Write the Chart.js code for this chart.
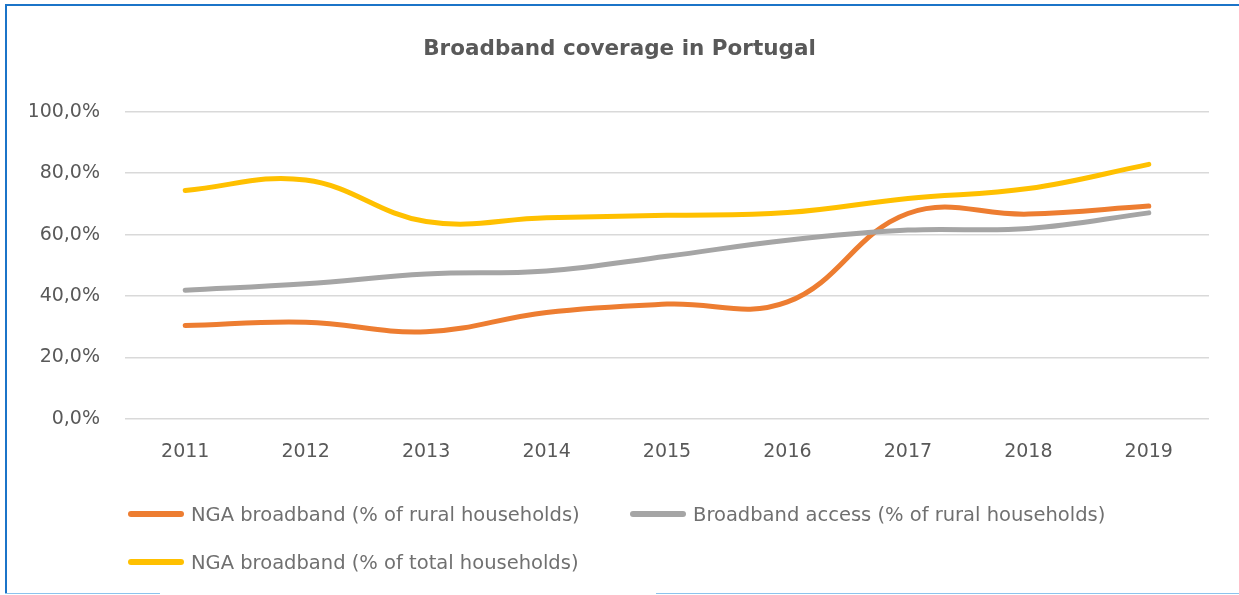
<!DOCTYPE html>
<html>
<head>
<meta charset="utf-8">
<script src="https://cdn.jsdelivr.net/npm/chart.js@4.4.0/dist/chart.umd.min.js"></script>
<style>
  html, body { margin: 0; padding: 0; background: #fff; overflow: hidden; }
  #wrap { position: relative; width: 1239px; height: 595px; overflow: hidden; }
  .edge { position: absolute; background: #1b74c8; }
  .botline { position: absolute; top: 593px; height: 1px; background: #8cc3ec; }
  #chartBox { position: absolute; left: 0; top: 0; width: 1239px; height: 595px; }
  #legend { position: absolute; left: 128px; top: 500px; width: 1010px;
            display: flex; flex-wrap: wrap; row-gap: 20px; }
  .leg-item { width: 502px; height: 28px; display: flex; align-items: center; }
  .leg-line { width: 56px; height: 6px; border-radius: 3px; margin-right: 7px; }
  .leg-text { font-family: "DejaVu Sans", sans-serif; font-size: 19.5px; color: #707070; white-space: nowrap; }
</style>
</head>
<body>
<div id="wrap">
  <div class="edge" style="left:5px;top:4px;width:1234px;height:2px;"></div>
  <div class="edge" style="left:5px;top:4px;width:2px;height:590px;"></div>
  <div class="botline" style="left:5px;width:155px;"></div>
  <div class="botline" style="left:656px;width:583px;"></div>
  <div id="chartBox"><canvas id="coverageChart"></canvas></div>
  <div id="legend"></div>
</div>
<script>
// Cobertura de banda larga em Portugal (em %)
const years = ['2011', '2012', '2013', '2014', '2015', '2016', '2017', '2018', '2019'];
const ngaRural = [30.4, 31.5, 28.4, 34.7, 37.4, 38.1, 66.9, 66.7, 69.3];
const accessRural = [41.9, 44.0, 47.2, 48.2, 53.0, 58.2, 61.5, 62.0, 67.1];
const ngaTotal = [74.4, 77.8, 64.3, 65.5, 66.3, 67.2, 71.8, 75.0, 82.9];
const yTicks = [0, 20, 40, 60, 80, 100];

const seriesLabels = [
  'NGA broadband (% of rural households)',
  'Broadband access (% of rural households)',
  'NGA broadband (% of total households)'
];
const seriesColors = ['#ED7D31', '#A5A5A5', '#FFC000'];

const fontFam = '"DejaVu Sans", sans-serif';
const txtColor = '#595959';

function lineDs(label, data, color, order) {
  return {
    label: label,
    data: data,
    borderColor: color,
    backgroundColor: color,
    borderWidth: 5,
    borderCapStyle: 'round',
    borderJoinStyle: 'round',
    pointRadius: 0,
    pointHoverRadius: 0,
    tension: 0.4,
    fill: false,
    order: order
  };
}

// legenda em HTML, montada a partir dos datasets
const htmlLegend = {
  id: 'htmlLegend',
  afterUpdate(chart) {
    const box = document.getElementById('legend');
    box.innerHTML = chart.data.datasets.map(ds =>
      `<div class="leg-item"><div class="leg-line" style="background:${ds.borderColor}"></div>` +
      `<span class="leg-text">${ds.label}</span></div>`
    ).join('');
  }
};

const ctx = document.getElementById('coverageChart').getContext('2d');
window.coverageChart = new Chart(ctx, {
  type: 'line',
  data: {
    labels: years,
    datasets: [
      lineDs(seriesLabels[0], ngaRural, seriesColors[0], 3),
      lineDs(seriesLabels[1], accessRural, seriesColors[1], 2),
      lineDs(seriesLabels[2], ngaTotal, seriesColors[2], 1)
    ]
  },
  options: {
    responsive: true,
    maintainAspectRatio: false,
    animation: false,
    layout: { padding: { left: 30, right: 30, top: 0, bottom: 131 } },
    plugins: {
      legend: { display: false },
      tooltip: { enabled: false },
      title: {
        display: true,
        text: 'Broadband coverage in Portugal',
        color: txtColor,
        font: { family: fontFam, size: 21.5, weight: 'bold', lineHeight: 1.2 },
        padding: { top: 37, bottom: 49 }
      }
    },
    scales: {
      x: {
        offset: true,
        grid: { display: false, drawTicks: false },
        border: { display: false },
        ticks: { color: txtColor, font: { family: fontFam, size: 19 }, padding: 22 },
        afterFit: s => { s.height = 45; }
      },
      y: {
        min: 0,
        max: 100,
        afterBuildTicks: s => { s.ticks = yTicks.map(v => ({ value: v })); },
        grid: { color: '#d9d9d9', lineWidth: 1.5, drawTicks: false },
        border: { display: false },
        ticks: {
          color: txtColor,
          font: { family: fontFam, size: 19 },
          padding: 25,
          callback: v => v.toFixed(1).replace('.', ',') + '%'
        },
        afterFit: s => { s.width = 95; }
      }
    }
  },
  plugins: [htmlLegend]
});
</script>
</body>
</html>
